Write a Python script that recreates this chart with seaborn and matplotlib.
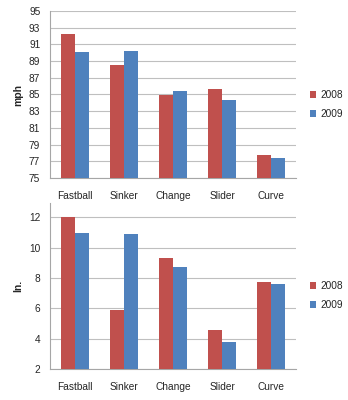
import matplotlib
matplotlib.use("Agg")
import matplotlib.pyplot as plt
import seaborn as sns
import pandas as pd
from matplotlib.patches import Patch
from matplotlib.ticker import FixedLocator, NullFormatter

pitches = ["Fastball", "Sinker", "Change", "Slider", "Curve"]
years = ["2008", "2009"]
speed_2008 = [92.3, 88.5, 84.95, 85.6, 77.8]
speed_2009 = [90.1, 90.2, 85.45, 84.4, 77.4]
move_2008 = [12.05, 5.9, 9.3, 4.6, 7.75]
move_2009 = [10.95, 10.9, 8.7, 3.8, 7.6]
speed_ticks = [75, 77, 79, 81, 83, 85, 87, 89, 91, 93, 95]
move_ticks = [2, 4, 6, 8, 10, 12]

colors = {"2008": "#C0504D", "2009": "#4F81BD"}

sns.set_style("white")
plt.rcParams["font.family"] = ["Liberation Sans", "DejaVu Sans"]

def frame(v08, v09, name):
    return pd.DataFrame({
        "pitch": pitches * 2,
        "year": ["2008"] * len(pitches) + ["2009"] * len(pitches),
        name: list(v08) + list(v09),
    })

fig = plt.figure(figsize=(3.48, 4.0), dpi=100)
ax1 = fig.add_axes([50 / 348, 1 - 178 / 400, 246 / 348, 167 / 400])
ax2 = fig.add_axes([50 / 348, 1 - 369 / 400, 246 / 348, 166 / 400])

def draw(ax, df, col, ylim, ticks, ylabel):
    sns.barplot(data=df, x="pitch", y=col, hue="year", palette=colors,
                width=0.57, ax=ax, legend=False, saturation=1,
                edgecolor="none", zorder=3)
    ax.set_ylim(*ylim)
    ax.set_xlim(-0.5, 4.5)
    ax.set_yticks(ticks)
    ax.yaxis.grid(True, color="#BFBFBF", linewidth=0.8, zorder=0)
    ax.set_axisbelow(True)
    for s in ["top", "right"]:
        ax.spines[s].set_visible(False)
    for s in ["left", "bottom"]:
        ax.spines[s].set_color("#A6A6A6")
        ax.spines[s].set_linewidth(0.8)
    ax.tick_params(axis="y", length=3, color="#A6A6A6", labelsize=7.3, pad=4)
    ax.tick_params(axis="x", which="major", length=0, labelsize=7.3, pad=9)
    ax.xaxis.set_minor_locator(FixedLocator([-0.5, 0.5, 1.5, 2.5, 3.5, 4.5]))
    ax.xaxis.set_minor_formatter(NullFormatter())
    ax.tick_params(axis="x", which="minor", length=3, color="#A6A6A6")
    ax.set_xlabel("")
    ax.set_ylabel(ylabel, fontsize=7.5, fontweight="bold", labelpad=4)

draw(ax1, frame(speed_2008, speed_2009, "mph"), "mph", (75, 95), speed_ticks, "mph")
draw(ax2, frame(move_2008, move_2009, "inch"), "inch", (2, 12.95), move_ticks, "In.")

handles = [Patch(facecolor=colors[y], edgecolor="none", label=y) for y in years]
for ypix in (104.5, 295.5):
    fig.legend(handles=handles, loc="center left",
               bbox_to_anchor=(306 / 348, 1 - ypix / 400),
               frameon=False, fontsize=7.3, handlelength=0.6, handleheight=0.6,
               handletextpad=0.4, labelspacing=0.9, borderaxespad=0)

fig.savefig("out.png", dpi=100)
